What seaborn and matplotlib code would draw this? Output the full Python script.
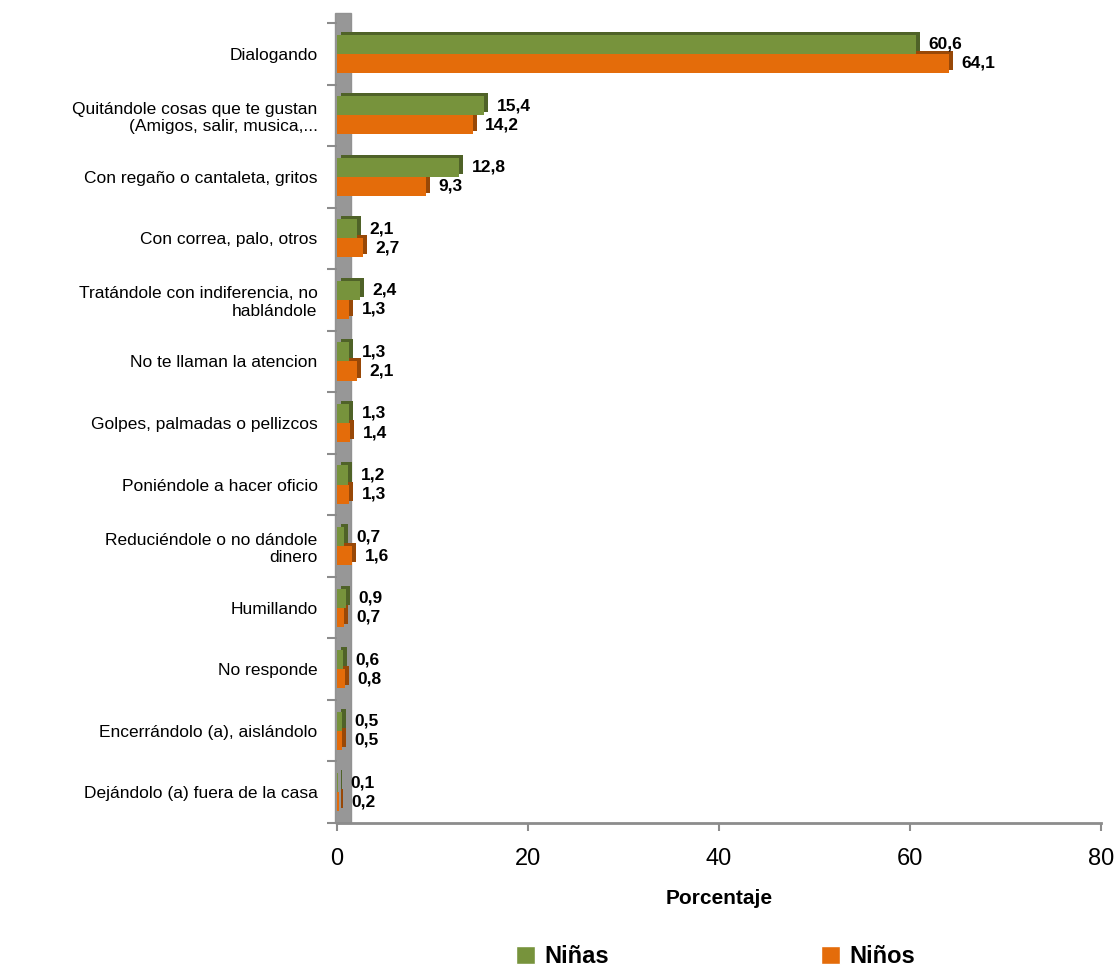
import matplotlib
matplotlib.use("Agg")
import matplotlib.pyplot as plt
import matplotlib.transforms as mtransforms
from matplotlib.patches import Rectangle, Patch
import seaborn as sns
import pandas as pd

categories = [
    "Dialogando",
    "Quitándole cosas que te gustan\n(Amigos, salir, musica,...",
    "Con regaño o cantaleta, gritos",
    "Con correa, palo, otros",
    "Tratándole con indiferencia, no\nhablándole",
    "No te llaman la atencion",
    "Golpes, palmadas o pellizcos",
    "Poniéndole a hacer oficio",
    "Reduciéndole o no dándole\ndinero",
    "Humillando",
    "No responde",
    "Encerrándolo (a), aislándolo",
    "Dejándolo (a) fuera de la casa",
]
ninas = [60.6, 15.4, 12.8, 2.1, 2.4, 1.3, 1.3, 1.2, 0.7, 0.9, 0.6, 0.5, 0.1]
ninos = [64.1, 14.2, 9.3, 2.7, 1.3, 2.1, 1.4, 1.3, 1.6, 0.7, 0.8, 0.5, 0.2]
series = ["Niñas", "Niños"]
colors = {"Niñas": "#77933C", "Niños": "#E46C0A"}
dark = {"Niñas": "#4F6228", "Niños": "#984807"}

df = pd.DataFrame({
    "cat": categories * 2,
    "val": ninas + ninos,
    "grp": [series[0]] * len(categories) + [series[1]] * len(categories),
})

sns.set_theme(style="white")
plt.rcParams["font.family"] = ["Liberation Sans", "DejaVu Sans"]
plt.rcParams["text.color"] = "black"
plt.rcParams["xtick.color"] = "black"
plt.rcParams["ytick.color"] = "black"
plt.rcParams["axes.labelcolor"] = "black"

fig = plt.figure(figsize=(11.18, 9.69), dpi=100)
ax = fig.add_axes([337 / 1118, 1 - 823 / 969, (1101 - 337) / 1118, (823 - 23) / 969])

sns.barplot(data=df, y="cat", x="val", hue="grp", order=categories,
            hue_order=series, palette=colors, orient="h", width=0.62,
            ax=ax, legend=False, saturation=1, zorder=3, linewidth=0)

# 3D-like depth: darker offset copy behind each bar
for cont, s in zip(ax.containers, series):
    for p in cont.patches:
        p.set_edgecolor("none")
        tr = mtransforms.offset_copy(ax.transData, fig=fig, x=4, y=3, units="dots")
        sh = Rectangle(p.get_xy(), p.get_width(), p.get_height(), transform=tr,
                       facecolor=dark[s], edgecolor="none", zorder=2)
        ax.add_patch(sh)
    ax.bar_label(cont, labels=[f"{v:.1f}".replace(".", ",") for v in cont.datavalues],
                 padding=9, fontsize=12.5, fontweight="bold", color="black", zorder=5)

# gray wall
ax.axvspan(-0.2, 1.5, ymax=1.012, color="#8C8C8C", alpha=0.9, zorder=1, clip_on=False)

ax.set_xlim(0, 80)
ax.set_ylim(len(categories) - 0.5, -0.5)
ax.set_xticks([0, 20, 40, 60, 80])
ax.tick_params(axis="x", labelsize=17, length=6, width=1.5, color="#8C8C8C",
               labelcolor="black", pad=12, bottom=True)
ax.tick_params(axis="y", labelsize=12.5, length=0, pad=14, left=True)
ax.set_yticks([i - 0.5 for i in range(len(categories) + 1)], minor=True)
ax.tick_params(axis="y", which="minor", length=7, width=1.5, color="#8C8C8C", left=True)
ax.set_ylabel("")
ax.set_xlabel("Porcentaje", fontsize=15, fontweight="bold", labelpad=14)
for sp in ["top", "right", "left"]:
    ax.spines[sp].set_visible(False)
ax.spines["bottom"].set_color("#8C8C8C")
ax.spines["bottom"].set_linewidth(2)
ax.grid(False)

handles = [Patch(facecolor=colors[s], label=s) for s in series]
fig.legend(handles=handles, loc="center", bbox_to_anchor=(0.64, 0.013), ncol=2,
           frameon=False, prop={"size": 17, "weight": "bold"},
           columnspacing=9, handlelength=0.8, handleheight=0.8, handletextpad=0.4)

fig.savefig("out.png", dpi=100)
